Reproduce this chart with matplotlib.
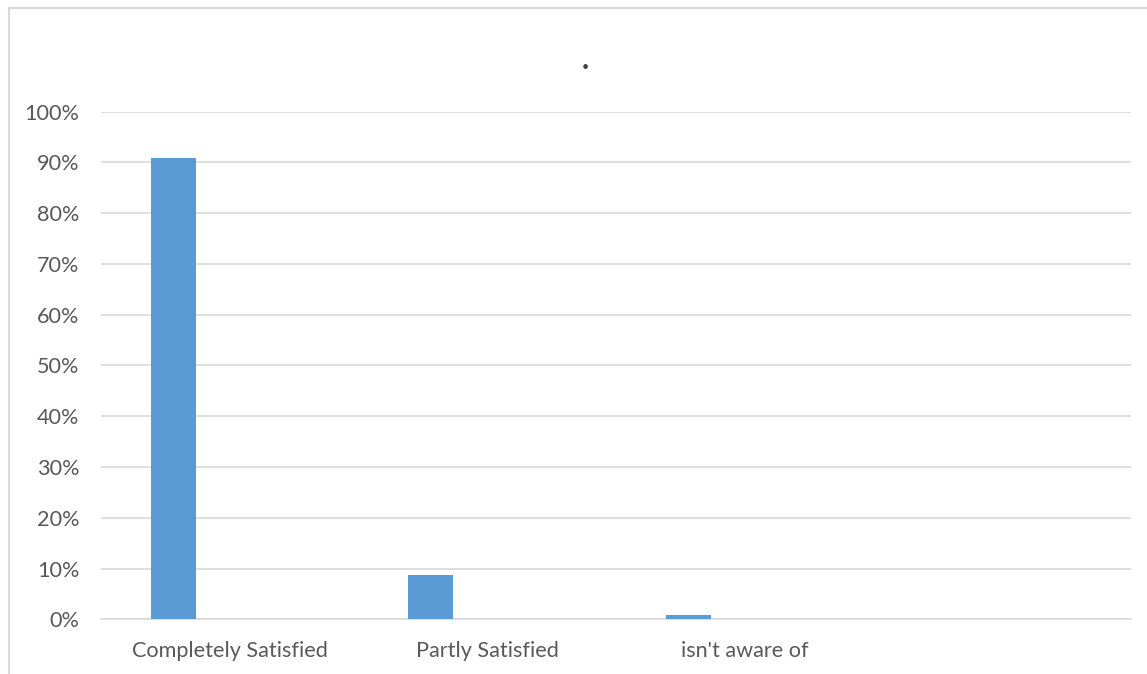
import matplotlib
matplotlib.use("Agg")
import matplotlib.pyplot as plt
from matplotlib.patches import Rectangle
from matplotlib.ticker import PercentFormatter

categories = ["Completely Satisfied", "Partly Satisfied", "isn't aware of", ""]
values = [0.909, 0.087, 0.008, None]
yticks = [0, 0.1, 0.2, 0.3, 0.4, 0.5, 0.6, 0.7, 0.8, 0.9, 1.0]

W, H = 1147, 674
fig = plt.figure(figsize=(W / 100, H / 100), dpi=100)
plt.rcParams['font.family'] = ['Lato', 'DejaVu Sans']

# outer chart border
fig.patches.append(Rectangle((9 / W, -0.1), 1.2, (H - 7.5) / H + 0.1, transform=fig.transFigure,
                             fill=False, edgecolor="#d9d9d9", linewidth=1.5))

ax = fig.add_axes([101 / W, (H - 619.3) / H, (1131 - 101) / W, (619.3 - 111.5) / H])
xs = [i for i, v in enumerate(values) if v is not None]
vs = [v for v in values if v is not None]
ax.bar([x - 0.22 for x in xs], vs, width=0.175, color="#5b9bd5", zorder=3)

ax.set_xlim(-0.5, len(categories) - 0.5)
ax.set_ylim(0, 1.0)
ax.set_yticks(yticks)
ax.yaxis.set_major_formatter(PercentFormatter(1.0, decimals=0))
ax.set_xticks(range(len(categories)))
ax.set_xticklabels(categories)
ax.grid(axis="y", color="#d9d9d9", linewidth=1.2, zorder=0)
ax.tick_params(axis="both", length=0, colors="#595959", labelsize=15.6)
ax.tick_params(axis="x", pad=15.5)
ax.tick_params(axis="y", pad=15.5)
for s in ["top", "right", "left"]:
    ax.spines[s].set_visible(False)
ax.spines["bottom"].set_color("#d9d9d9")
ax.spines["bottom"].set_linewidth(1.2)

fig.text(585 / W, 1 - 60 / H, ".", ha="center", va="center", fontsize=22, color="#404040",
         fontweight="bold")

fig.savefig("out.png", dpi=100)
